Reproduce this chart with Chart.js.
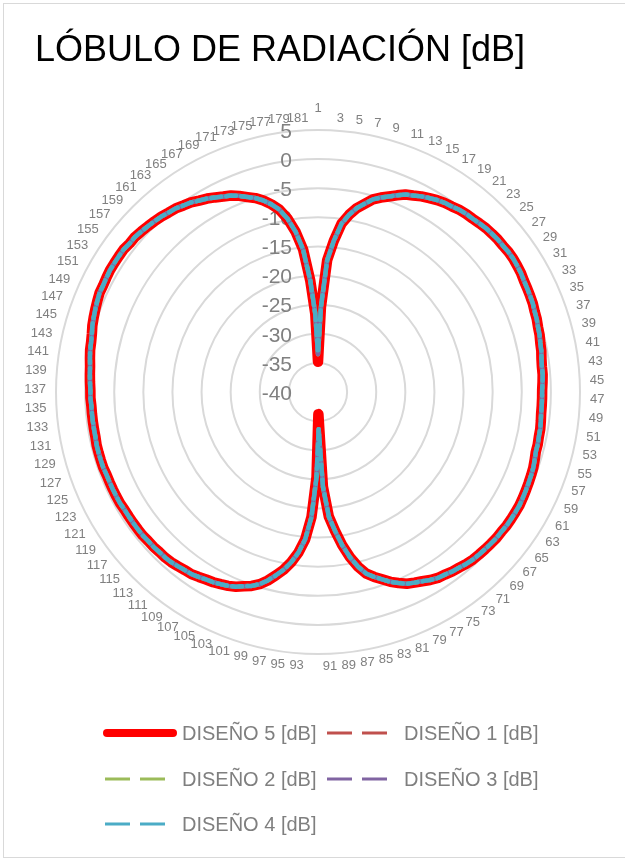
<!DOCTYPE html>
<html>
<head>
<meta charset="utf-8">
<script src="https://cdn.jsdelivr.net/npm/chart.js@4.4.1/dist/chart.umd.min.js"></script>
<style>
  body { margin: 0; background: #fff; }
  #wrap { position: relative; width: 625px; height: 858px; overflow: hidden; font-family: "Liberation Sans", Arial, sans-serif; }
  #frame { position: absolute; left: 3px; top: 3px; width: 640px; height: 855px; border: 1px solid #d9d9d9; box-sizing: border-box; }
  #chart { position: absolute; left: 0; top: 0; }
  #title { position: absolute; left: 0; top: 31px; width: 560px; text-align: center; font-size: 36px; line-height: 36px; color: #000; white-space: nowrap; }
  .leg-text { position: absolute; font-size: 20px; line-height: 24px; color: #7f7f7f; white-space: nowrap; }
  .leg-line { position: absolute; }
</style>
</head>
<body>
<div id="wrap">
  <div id="frame"></div>
  <canvas id="chart" width="625" height="858"></canvas>
  <div id="title">LÓBULO DE RADIACIÓN [dB]</div>
  <div id="legend"></div>
</div>
<script>
// Categorías 1..181 (una cada 2 grados)
const categories = Array.from({ length: 181 }, (_, i) => String(i + 1));

// Valores de las marcas del eje radial
const tickValues = [5, 0, -5, -10, -15, -20, -25, -30, -35, -40];

// DISEÑO 1..4 se superponen en el gráfico
const disenoBase = [
  -33.5, -25.4, -17.3, -13.9, -10.8, -9.1, -7.7, -6.7, -5.6, -4.9,
  -4.3, -3.6, -2.9, -2.5, -2.0, -1.6, -1.2, -0.9, -0.7, -0.4,
  -0.2, -0.1, 0.1, 0.3, 0.4, 0.5, 0.5, 0.6, 0.6, 0.5,
  0.4, 0.2, 0.1, 0.0, -0.1, -0.3, -0.4, -0.6, -0.7, -0.9,
  -1.0, -1.2, -1.3, -1.3, -1.4, -1.5, -1.5, -1.5, -1.5, -1.4,
  -1.3, -1.3, -1.2, -1.2, -1.0, -0.8, -0.7, -0.6, -0.5, -0.4,
  -0.3, -0.3, -0.3, -0.3, -0.4, -0.4, -0.5, -0.6, -0.7, -0.8,
  -1.0, -1.3, -1.5, -1.8, -2.0, -2.4, -2.9, -3.3, -3.7, -4.4,
  -5.1, -6.0, -6.8, -7.7, -9.2, -11.1, -13.4, -16.0, -18.5, -23.7,
  -33.6, -25.4, -18.5, -14.6, -12.2, -10.4, -8.9, -7.7, -6.5, -5.5,
  -4.8, -4.3, -3.7, -3.3, -3.0, -2.7, -2.5, -2.2, -1.9, -1.8,
  -1.6, -1.4, -1.3, -1.3, -1.2, -1.2, -1.1, -1.1, -1.1, -1.1,
  -1.1, -1.0, -1.0, -1.0, -1.0, -1.0, -0.9, -0.9, -0.9, -0.9,
  -1.0, -1.0, -1.0, -1.0, -1.0, -0.9, -0.9, -0.8, -0.7, -0.6,
  -0.4, -0.2, -0.1, 0.1, 0.4, 0.6, 0.8, 1.0, 1.2, 1.2,
  1.3, 1.4, 1.4, 1.4, 1.4, 1.2, 1.2, 1.0, 0.8, 0.6,
  0.4, 0.1, -0.1, -0.5, -0.8, -1.3, -1.7, -2.2, -2.7, -3.1,
  -3.7, -4.4, -5.0, -5.8, -6.8, -8.0, -9.8, -12.2, -15.4, -20.8, -26.6
];

// DISEÑO 5: nulos algo más profundos
const diseno5 = [
  -34.8, -25.4, -17.3, -13.9, -10.8, -9.1, -7.7, -6.7, -5.6, -4.9,
  -4.3, -3.6, -2.9, -2.5, -2.0, -1.6, -1.2, -0.9, -0.7, -0.4,
  -0.2, -0.1, 0.1, 0.3, 0.4, 0.5, 0.5, 0.6, 0.6, 0.5,
  0.4, 0.2, 0.1, 0.0, -0.1, -0.3, -0.4, -0.6, -0.7, -0.9,
  -1.0, -1.2, -1.3, -1.3, -1.4, -1.5, -1.5, -1.5, -1.5, -1.4,
  -1.3, -1.3, -1.2, -1.2, -1.0, -0.8, -0.7, -0.6, -0.5, -0.4,
  -0.3, -0.3, -0.3, -0.3, -0.4, -0.4, -0.5, -0.6, -0.7, -0.8,
  -1.0, -1.3, -1.5, -1.8, -2.0, -2.4, -2.9, -3.3, -3.7, -4.4,
  -5.1, -6.0, -6.8, -7.7, -9.2, -11.1, -13.4, -16.0, -18.5, -23.7,
  -36.2, -25.4, -18.5, -14.6, -12.2, -10.4, -8.9, -7.7, -6.5, -5.5,
  -4.8, -4.3, -3.7, -3.3, -3.0, -2.7, -2.5, -2.2, -1.9, -1.8,
  -1.6, -1.4, -1.3, -1.3, -1.2, -1.2, -1.1, -1.1, -1.1, -1.1,
  -1.1, -1.0, -1.0, -1.0, -1.0, -1.0, -0.9, -0.9, -0.9, -0.9,
  -1.0, -1.0, -1.0, -1.0, -1.0, -0.9, -0.9, -0.8, -0.7, -0.6,
  -0.4, -0.2, -0.1, 0.1, 0.4, 0.6, 0.8, 1.0, 1.2, 1.2,
  1.3, 1.4, 1.4, 1.4, 1.4, 1.2, 1.2, 1.0, 0.8, 0.6,
  0.4, 0.1, -0.1, -0.5, -0.8, -1.3, -1.7, -2.2, -2.7, -3.1,
  -3.7, -4.4, -5.0, -5.8, -6.8, -8.0, -9.8, -12.2, -15.4, -20.8, -26.6
];

const seriesNames = ['DISEÑO 5 [dB]', 'DISEÑO 1 [dB]', 'DISEÑO 2 [dB]', 'DISEÑO 3 [dB]', 'DISEÑO 4 [dB]'];
const seriesColors = ['#ff0000', '#c0504d', '#9bbb59', '#8064a2', '#4bacc6'];

const FONT = '"Liberation Sans", Arial, sans-serif';

// Textos del eje y de las categorías, dibujados debajo de las líneas
const radarText = {
    id: 'radarText',
    beforeDatasetsDraw(chart) {
        const scale = chart.scales.r;
        const ctx = chart.ctx;
        ctx.save();
        ctx.fillStyle = '#808080';

        ctx.font = '21px ' + FONT;
        ctx.textAlign = 'right';
        ctx.textBaseline = 'middle';
        tickValues.forEach(v => {
            const y = scale.yCenter - scale.getDistanceFromCenterForValue(v);
            ctx.fillText(String(v), scale.xCenter - 26, y + 2);
        });

        // Solo se muestra una de cada dos categorías
        ctx.font = '13px ' + FONT;
        categories.forEach((label, i) => {
            if (i % 2) return;
            const pos = scale.getPointPosition(i, scale.drawingArea);
            const a = scale.getIndexAngle(i);
            const s = Math.sin(a), c = Math.cos(a);
            ctx.textAlign = s > 0.001 ? 'left' : (s < -0.001 ? 'right' : 'center');
            let y = pos.y - c * 12;
            if (i === 0) y -= 10;
            ctx.fillText(label, pos.x + s * 10, y);
        });
        ctx.restore();
    }
};

new Chart(document.getElementById('chart'), {
    type: 'radar',
    data: {
        labels: categories,
        datasets: [
            { label: seriesNames[0], data: diseno5, borderColor: seriesColors[0], borderWidth: 10.5, order: 5 },
            { label: seriesNames[1], data: disenoBase, borderColor: seriesColors[1], borderWidth: 4.5, borderDash: [10, 5], borderDashOffset: 0, order: 4 },
            { label: seriesNames[2], data: disenoBase, borderColor: seriesColors[2], borderWidth: 4.5, borderDash: [9, 6], borderDashOffset: 2, order: 3 },
            { label: seriesNames[3], data: disenoBase, borderColor: seriesColors[3], borderWidth: 4.5, borderDash: [10, 5], borderDashOffset: 6, order: 2 },
            { label: seriesNames[4], data: disenoBase, borderColor: seriesColors[4], borderWidth: 4.5, borderDash: [10, 5], borderDashOffset: 11, order: 1 }
        ]
    },
    options: {
        responsive: false,
        animation: false,
        devicePixelRatio: 1,
        layout: {
            padding: { left: 56, right: 45, top: 130, bottom: 204 }
        },
        elements: {
            point: { radius: 0, hoverRadius: 0 },
            line: { tension: 0, fill: false, borderJoinStyle: 'round', borderCapStyle: 'round' }
        },
        scales: {
            r: {
                min: -40,
                max: 5,
                ticks: { stepSize: 5, display: false },
                grid: { circular: true, color: '#d9d9d9', lineWidth: 2 },
                angleLines: { display: false },
                pointLabels: { display: false }
            }
        },
        plugins: {
            legend: { display: false },
            tooltip: { enabled: false }
        }
    },
    plugins: [radarText]
});

// Leyenda en dos columnas como en el original
const legendSlots = [
    { lineX: 103, lineW: 74, textX: 182, y: 733 },
    { lineX: 327, lineW: 60, textX: 404, y: 733 },
    { lineX: 105, lineW: 60, textX: 182, y: 779 },
    { lineX: 327, lineW: 60, textX: 404, y: 779 },
    { lineX: 105, lineW: 60, textX: 182, y: 824 }
];

const legend = document.getElementById('legend');
seriesNames.forEach((name, i) => {
    const slot = legendSlots[i];
    const svg = document.createElementNS('http://www.w3.org/2000/svg', 'svg');
    svg.setAttribute('class', 'leg-line');
    svg.setAttribute('width', slot.lineW);
    svg.setAttribute('height', 12);
    svg.style.left = slot.lineX + 'px';
    svg.style.top = (slot.y - 6) + 'px';
    const line = document.createElementNS('http://www.w3.org/2000/svg', 'line');
    line.setAttribute('y1', 6);
    line.setAttribute('y2', 6);
    line.setAttribute('stroke', seriesColors[i]);
    if (i === 0) {
        line.setAttribute('x1', 4);
        line.setAttribute('x2', slot.lineW - 4);
        line.setAttribute('stroke-width', 8);
        line.setAttribute('stroke-linecap', 'round');
    } else {
        line.setAttribute('x1', 0);
        line.setAttribute('x2', slot.lineW);
        line.setAttribute('stroke-width', 3);
        line.setAttribute('stroke-dasharray', '25 10');
    }
    svg.appendChild(line);
    legend.appendChild(svg);

    const text = document.createElement('div');
    text.className = 'leg-text';
    text.textContent = name;
    text.style.left = slot.textX + 'px';
    text.style.top = (slot.y - 12) + 'px';
    legend.appendChild(text);
});
</script>
</body>
</html>
